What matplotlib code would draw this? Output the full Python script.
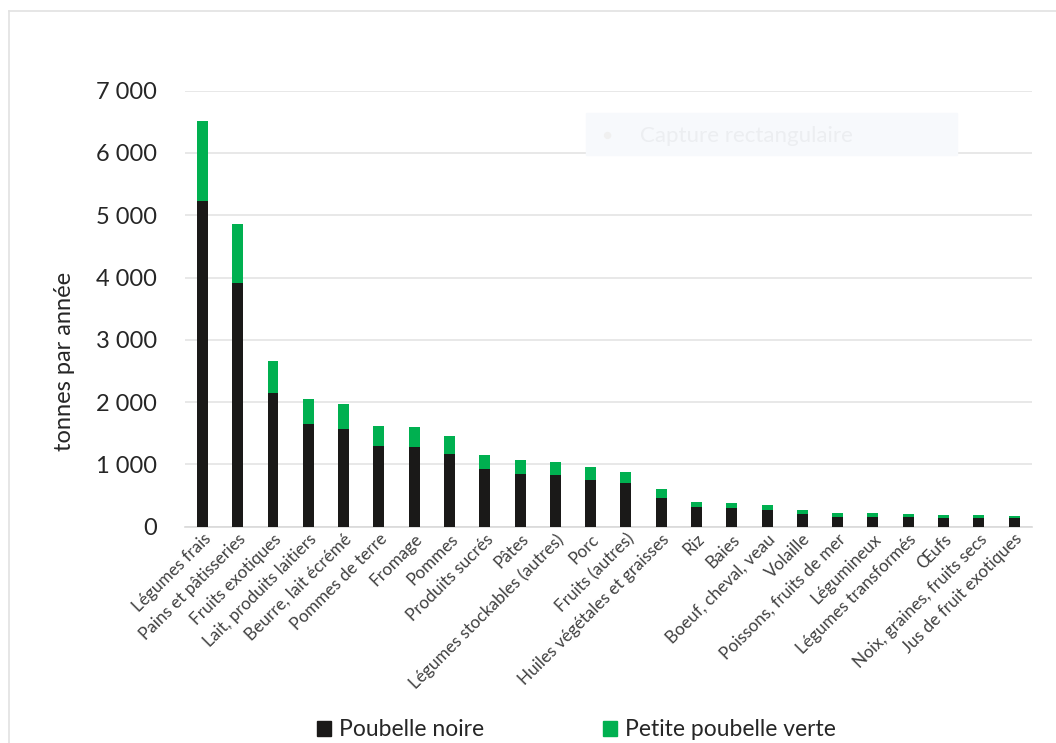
import numpy as np
import matplotlib.pyplot as plt
from matplotlib.patches import Rectangle
from matplotlib.lines import Line2D

categories = ["Légumes frais", "Pains et pâtisseries", "Fruits exotiques",
              "Lait, produits laitiers", "Beurre, lait écrémé", "Pommes de terre",
              "Fromage", "Pommes", "Produits sucrés", "Pâtes",
              "Légumes stockables (autres)", "Porc", "Fruits (autres)",
              "Huiles végétales et graisses", "Riz", "Baies", "Boeuf, cheval, veau",
              "Volaille", "Poissons, fruits de mer", "Légumineux",
              "Légumes transformés", "Œufs", "Noix, graines, fruits secs",
              "Jus de fruit exotiques"]
poubelle_noire = [5230, 3920, 2140, 1650, 1570, 1300, 1285, 1170, 930, 850,
                  825, 755, 710, 470, 315, 300, 268, 205, 160, 160,
                  160, 145, 140, 135]
poubelle_verte = [1275, 945, 525, 405, 400, 320, 320, 285, 230, 215,
                  215, 197, 173, 140, 90, 80, 85, 68, 60, 62,
                  45, 50, 55, 46]
yticks = [0, 1000, 2000, 3000, 4000, 5000, 6000, 7000]
ytick_labels = ["0", "1 000", "2 000", "3 000", "4 000", "5 000", "6 000", "7 000"]

black = "#1a1918"
green = "#00b050"
text_col = "#262626"

plt.rcParams['font.family'] = ['Lato', 'DejaVu Sans']

fig = plt.figure(figsize=(10.56, 7.43), dpi=100)
ax = fig.add_axes([0.175, 0.291, 0.802, 0.587])

x = np.arange(len(categories))
ax.bar(x, poubelle_noire, width=0.31, color=black, zorder=3)
ax.bar(x, poubelle_verte, width=0.31, bottom=poubelle_noire, color=green, zorder=3)

ax.set_xlim(-0.5, len(categories) - 0.5)
ax.set_ylim(0, 7000)
ax.set_yticks(yticks)
ax.set_yticklabels(ytick_labels, fontsize=17, color=text_col)
ax.yaxis.grid(True, color="#e4e4e4", linewidth=1.2, zorder=0)
ax.tick_params(axis="y", length=0, pad=20)
ax.tick_params(axis="x", length=0, pad=3)
ax.set_xticks(x)
ax.set_xticklabels(categories, rotation=45, ha="right", rotation_mode="anchor",
                   fontsize=12.3, color="#404040")
for s in ["top", "right", "left"]:
    ax.spines[s].set_visible(False)
ax.spines["bottom"].set_color("#d9d9d9")
ax.spines["bottom"].set_linewidth(1.2)
ax.set_ylabel("tonnes par année", fontsize=17, color=text_col)
ax.yaxis.set_label_coords(-0.13, 0.38)

# legend
handles = [Rectangle((0, 0), 1, 1, color=black), Rectangle((0, 0), 1, 1, color=green)]
fig.legend(handles, ["Poubelle noire", "Petite poubelle verte"], loc="center",
           bbox_to_anchor=(0.546, 0.0175), ncol=2, frameon=False, fontsize=16.5,
           handlelength=0.6, handleheight=0.6, handletextpad=0.35,
           columnspacing=5.2, labelcolor=text_col, borderpad=0, borderaxespad=0)

# chart frame
fig.add_artist(Line2D([9 / 1056, 1], [1 - 11 / 743, 1 - 11 / 743],
                      transform=fig.transFigure, color="#e2e2e2", lw=1.2))
fig.add_artist(Line2D([9 / 1056, 9 / 1056], [0, 1 - 11 / 743],
                      transform=fig.transFigure, color="#e2e2e2", lw=1.2))

# faint screen-capture overlay
fig.patches.append(Rectangle((586 / 1056, 1 - 155 / 743), 371 / 1056, 42 / 743,
                             transform=fig.transFigure, color="#f7f9fc", zorder=5))
fig.text(640 / 1056, 1 - 136 / 743, "Capture rectangulaire", fontsize=16,
         color="#eceef1", va="center", zorder=6)
fig.text(607 / 1056, 1 - 136 / 743, "●", fontsize=11, color="#f0f0f0",
         va="center", ha="center", zorder=6)

fig.savefig("out.png", dpi=100, facecolor="white")
